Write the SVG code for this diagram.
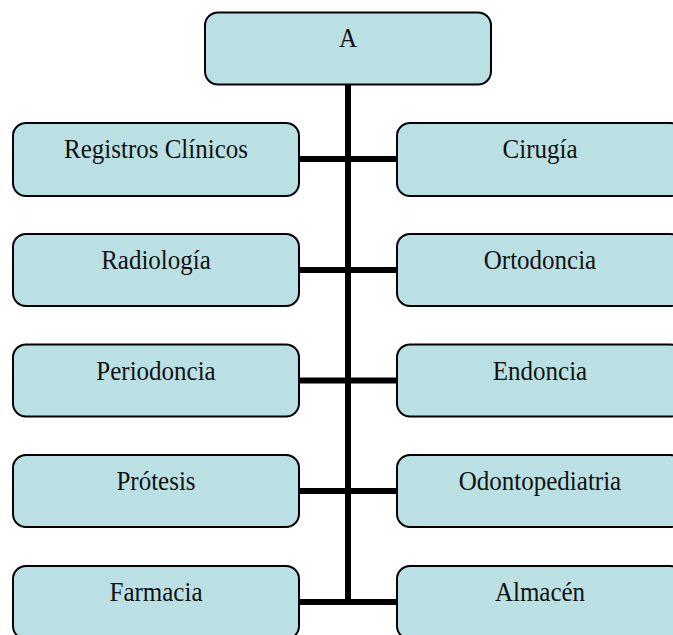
<svg xmlns="http://www.w3.org/2000/svg" width="673" height="635" viewBox="0 0 673 635">
  <style>
    .box { fill: #bae0e3; stroke: #000; stroke-width: 2; }
    .label { font-family: "Liberation Serif", "Times New Roman", serif; font-size: 25px; fill: #111; text-anchor: middle; }
    .link { stroke: #000; stroke-width: 6; fill: none; }
  </style>
  <rect width="673" height="635" fill="#fff"/>

  <!-- connectors: trunk and row branches -->
  <g id="connectors">
    <line class="link" x1="348" y1="85" x2="348" y2="605"/>
    <line class="link" x1="300" y1="159" x2="396" y2="159"/>
    <line class="link" x1="300" y1="270" x2="396" y2="270"/>
    <line class="link" x1="300" y1="380.5" x2="396" y2="380.5"/>
    <line class="link" x1="300" y1="491" x2="396" y2="491"/>
    <line class="link" x1="300" y1="602" x2="396" y2="602"/>
  </g>

  <g id="root">
    <rect class="box" x="205" y="12.5" width="286" height="72" rx="13"/>
    <text class="label" transform="translate(348 47) scale(1 1.06)">A</text>
  </g>

  <!-- left column -->
  <g id="registros">
    <rect class="box" x="13" y="123" width="286" height="73" rx="13"/>
    <text class="label" transform="translate(156 158) scale(1 1.06)">Registros Clínicos</text>
  </g>
  <g id="radiologia">
    <rect class="box" x="13" y="234" width="286" height="72" rx="13"/>
    <text class="label" transform="translate(156 269) scale(1 1.06)">Radiología</text>
  </g>
  <g id="periodoncia">
    <rect class="box" x="13" y="344.5" width="286" height="72" rx="13"/>
    <text class="label" transform="translate(156 379.5) scale(1 1.06)">Periodoncia</text>
  </g>
  <g id="protesis">
    <rect class="box" x="13" y="455" width="286" height="72" rx="13"/>
    <text class="label" transform="translate(156 490) scale(1 1.06)">Prótesis</text>
  </g>
  <g id="farmacia">
    <rect class="box" x="13" y="566" width="286" height="73" rx="13"/>
    <text class="label" transform="translate(156 601) scale(1 1.06)">Farmacia</text>
  </g>

  <!-- right column -->
  <g id="cirugia">
    <rect class="box" x="397" y="123" width="286" height="73" rx="13"/>
    <text class="label" transform="translate(540 158) scale(1 1.06)">Cirugía</text>
  </g>
  <g id="ortodoncia">
    <rect class="box" x="397" y="234" width="286" height="72" rx="13"/>
    <text class="label" transform="translate(540 269) scale(1 1.06)">Ortodoncia</text>
  </g>
  <g id="endoncia">
    <rect class="box" x="397" y="344.5" width="286" height="72" rx="13"/>
    <text class="label" transform="translate(540 379.5) scale(1 1.06)">Endoncia</text>
  </g>
  <g id="odontopediatria">
    <rect class="box" x="397" y="455" width="286" height="72" rx="13"/>
    <text class="label" transform="translate(540 490) scale(1 1.06)">Odontopediatria</text>
  </g>
  <g id="almacen">
    <rect class="box" x="397" y="566" width="286" height="73" rx="13"/>
    <text class="label" transform="translate(540 601) scale(1 1.06)">Almacén</text>
  </g>
</svg>
